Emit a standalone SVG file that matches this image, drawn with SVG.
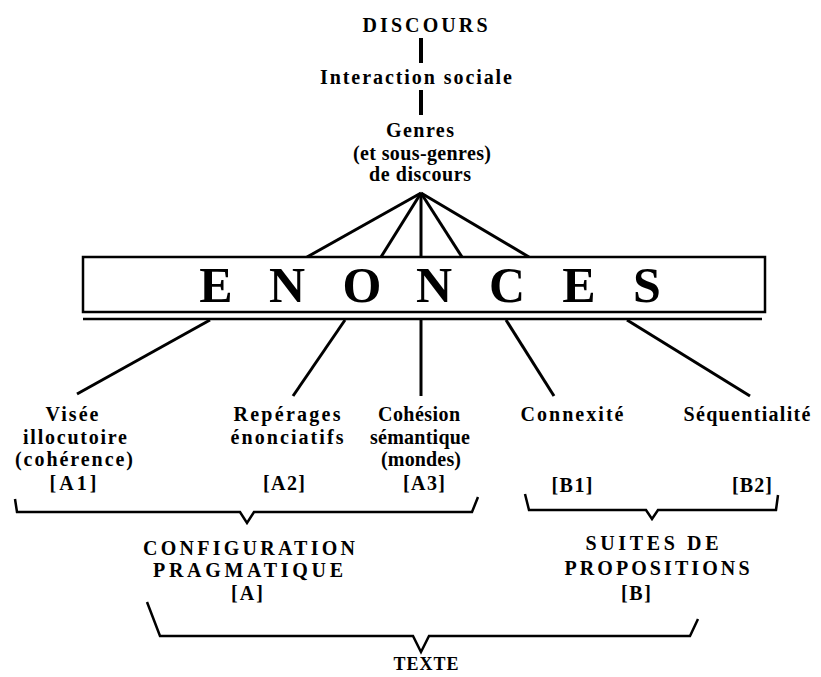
<svg xmlns="http://www.w3.org/2000/svg" width="821" height="677" viewBox="0 0 821 677">
<style>
text{font-family:"Liberation Serif","Times New Roman",serif;font-weight:bold;fill:#000;text-anchor:middle;font-size:20px}
.big{font-size:50px}
.ln{stroke:#000;stroke-width:3;fill:none;stroke-linecap:butt}
.bar{stroke:#000;stroke-width:4;fill:none}
.br{stroke:#000;stroke-width:2.5;fill:none;stroke-linejoin:miter}
</style>
<rect width="821" height="677" fill="#fff"/>
<g id="connectors">
<line class="bar" x1="421" y1="38" x2="421" y2="63"/>
<line class="bar" x1="421" y1="90" x2="421" y2="115"/>
<line class="ln" x1="421" y1="193" x2="307" y2="257"/>
<line class="ln" x1="421" y1="193" x2="381" y2="257"/>
<line class="ln" x1="421" y1="193" x2="421" y2="257"/>
<line class="ln" x1="421" y1="193" x2="462" y2="257"/>
<line class="ln" x1="421" y1="193" x2="529" y2="257"/>
<line class="ln" x1="210" y1="320" x2="77" y2="394"/>
<line class="ln" x1="345" y1="320" x2="293" y2="396"/>
<line class="ln" x1="421" y1="320" x2="421" y2="396"/>
<line class="ln" x1="506" y1="320" x2="554" y2="396"/>
<line class="ln" x1="627" y1="320" x2="750" y2="396"/>
<path class="br" d="M15,499 L17,512 L240,512 L247,523 L254,512 L472,512 L478,497"/>
<path class="br" d="M525,494 L529,510 L646,510 L652,519 L658,510 L776,510 L778,495"/>
<path class="br" d="M147,602 L160,636 L413,636 L421,652 L429,636 L690,636 L698,619"/>
</g>
<g id="discours"><text x="425" y="32" textLength="125">DISCOURS</text></g>
<g id="interaction"><text x="416" y="84" textLength="192">Interaction sociale</text></g>
<g id="genres">
<text x="420" y="137" textLength="68">Genres</text>
<text x="422" y="160" textLength="138">(et sous-genres)</text>
<text x="420" y="181" textLength="102">de discours</text>
</g>
<g id="enonces">
<rect x="83" y="257" width="682" height="55" fill="#fff" stroke="#000" stroke-width="2.5"/>
<line x1="83" y1="319" x2="762" y2="319" stroke="#000" stroke-width="2.5"/>
<text class="big" x="216 287 362 434 507 579 647" y="302">ENONCES</text>
</g>
<g id="visee">
<text x="72" y="421" textLength="53">Visée</text>
<text x="75" y="444" textLength="104">illocutoire</text>
<text x="74" y="466" textLength="118">(cohérence)</text>
<text x="73" y="490" textLength="47">[A1]</text>
</g>
<g id="reperages">
<text x="287" y="421" textLength="107">Repérages</text>
<text x="287" y="444" textLength="113">énonciatifs</text>
<text x="284" y="490" textLength="42">[A2]</text>
</g>
<g id="cohesion">
<text x="419" y="421" textLength="82">Cohésion</text>
<text x="420" y="444" textLength="100">sémantique</text>
<text x="421" y="466" textLength="80">(mondes)</text>
<text x="424" y="490" textLength="42">[A3]</text>
</g>
<g id="connexite"><text x="572" y="421" textLength="103">Connexité</text>
<text x="572" y="492" textLength="41">[B1]</text></g>
<g id="sequentialite"><text x="747" y="421" textLength="127">Séquentialité</text>
<text x="752" y="492" textLength="40">[B2]</text></g>
<g id="config">
<text x="249" y="555" textLength="212">CONFIGURATION</text>
<text x="248" y="577" textLength="190">PRAGMATIQUE</text>
<text x="247" y="600" textLength="32">[A]</text>
</g>
<g id="suites">
<text x="652" y="550" textLength="133">SUITES DE</text>
<text x="657" y="575" textLength="185">PROPOSITIONS</text>
<text x="636" y="600" textLength="30">[B]</text>
</g>
<g id="texte"><text x="426" y="670" textLength="65" style="font-size:18px">TEXTE</text></g>
</svg>
